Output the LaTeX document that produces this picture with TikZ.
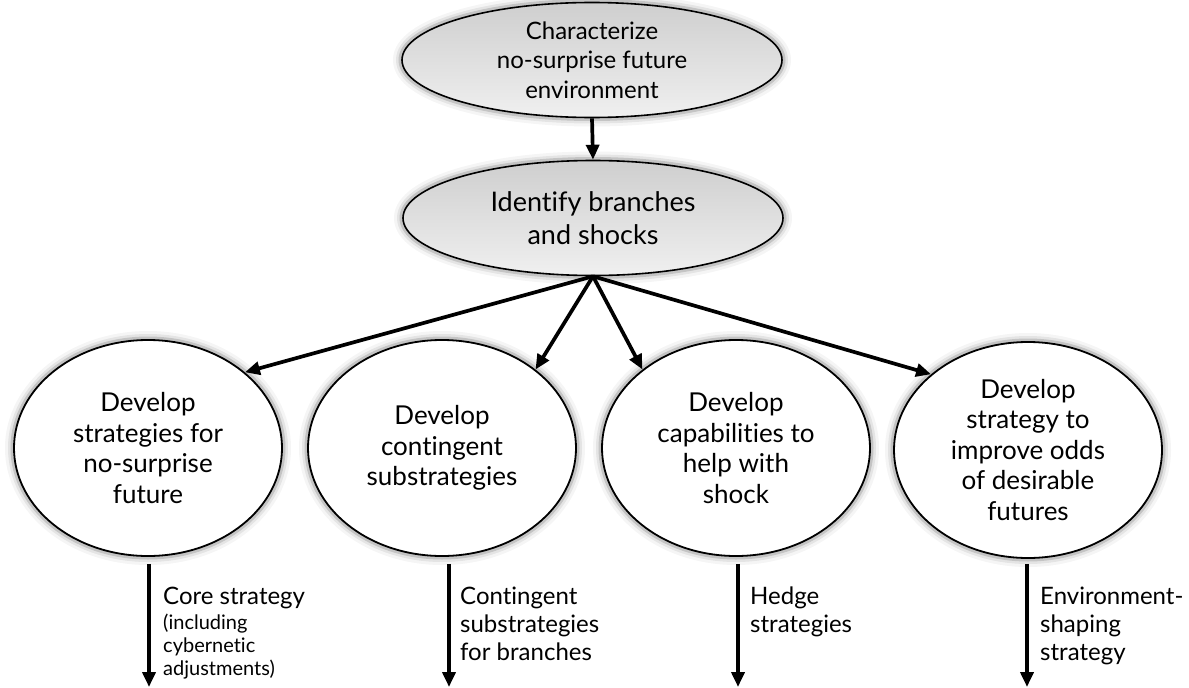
\documentclass[tikz,border=0pt]{standalone}
\usepackage{fontspec}
\setmainfont{Lato}[Ligatures=NoCommon]
\usetikzlibrary{arrows.meta,shapes.geometric}
\begin{document}
\begin{tikzpicture}[x=1pt,y=-1pt,
  glow/.style={
    preaction={draw=black,line width=18pt,opacity=0.04},
    preaction={draw=black,line width=12pt,opacity=0.07},
    preaction={draw=black,line width=7pt,opacity=0.14}},
  greybox/.style={ellipse,glow,draw=black,line width=1.6pt,
    top color=gray!38,bottom color=gray!12,
    minimum width=380pt,minimum height=115pt,inner sep=0pt,align=center},
  roundbox/.style={ellipse,glow,draw=black,line width=1.8pt,fill=white,
    minimum width=268pt,minimum height=216pt,inner sep=0pt,align=center,
    font=\fontsize{26}{30.5}\selectfont},
  arr/.style={line width=3.7pt,-{Triangle[length=15pt,width=13pt]}},
  lab/.style={anchor=north west,align=left,inner sep=0pt,
    font=\fontsize{24}{28}\selectfont},
  smalllab/.style={anchor=north west,align=left,inner sep=0pt,
    font=\fontsize{20}{23}\selectfont}]
\useasboundingbox (0,0) rectangle (1189,688);

% top of the chain
\node[greybox,font=\fontsize{24}{29.5}\selectfont] (env) at (592,60)
  {Characterize\\no-surprise future\\environment};
\node[greybox,font=\fontsize{27}{33}\selectfont] (shock) at (593,218)
  {Identify branches\\and shocks};

% the four strategy bubbles
\node[roundbox] (core) at (148,448)
  {Develop\\strategies for\\no-surprise\\future};
\node[roundbox] (cont) at (442,448)
  {Develop\\contingent\\substrategies};
\node[roundbox] (hedge) at (736,448)
  {Develop\\capabilities to\\help with\\shock};
\node[roundbox] (shape) at (1028,450)
  {Develop\\strategy to\\improve odds\\of desirable\\futures};

\draw[arr] (env.south) -- (shock.north);
\draw[arr] (shock.south) -- (core.38);
\draw[arr] (shock.south) -- (cont.40);
\draw[arr] (shock.south) -- (hedge.140);
\draw[arr] (shock.south) -- (shape.142.5);

% outputs of each bubble
\coordinate (o1) at (149,687);
\coordinate (o2) at (449,687);
\coordinate (o3) at (738,687);
\coordinate (o4) at (1027,687);
\draw[arr] ([yshift=-7pt]core.south -| o1) -- (o1);
\draw[arr] ([yshift=-7pt]cont.south -| o2) -- (o2);
\draw[arr] ([yshift=-7pt]hedge.south -| o3) -- (o3);
\draw[arr] ([yshift=-5pt]shape.south -| o4) -- (o4);

\node[lab] (l1) at (163,587) {Core strategy};
\node[smalllab] (l1b) at (163,614) {(including\\cybernetic\\adjustments)};
\node[lab] (l2) at (460,587) {Contingent\\substrategies\\for branches};
\node[lab] (l3) at (750,587) {Hedge\\strategies};
\node[lab] (l4) at (1040,587) {Environment-\\shaping\\strategy};
\end{tikzpicture}
\end{document}
